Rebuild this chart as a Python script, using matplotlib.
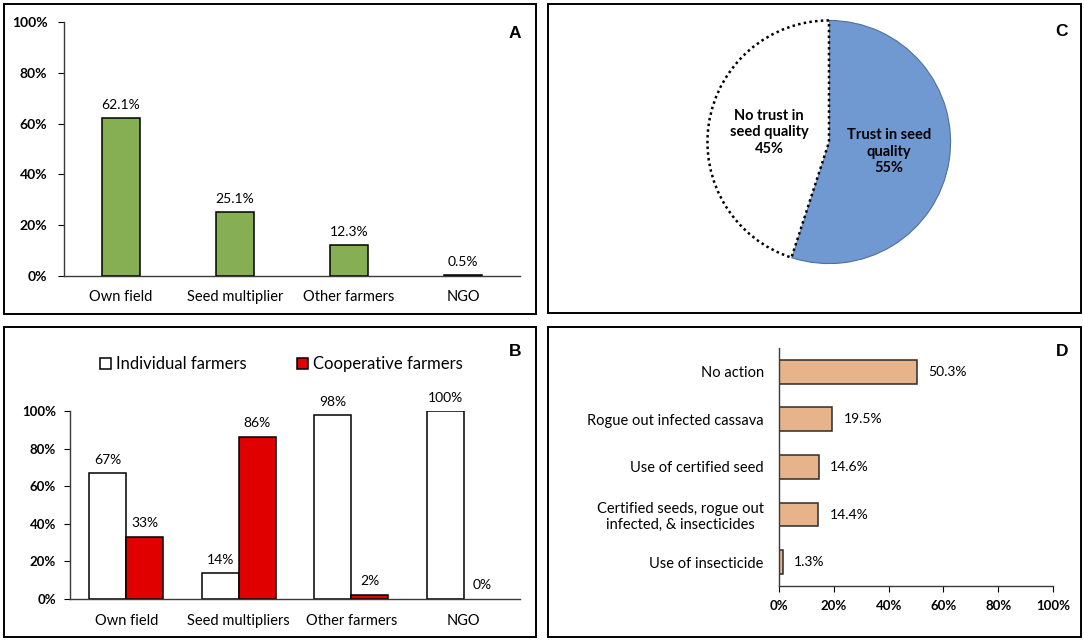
import matplotlib.pyplot as plt
from matplotlib.patches import Rectangle
from matplotlib.ticker import PercentFormatter

plt.rcParams["font.family"] = ["Lato", "DejaVu Sans"]

# panel A: source of planting material
sources_a = ["Own field", "Seed multiplier", "Other farmers", "NGO"]
share_a = [62.1, 25.1, 12.3, 0.5]

# panel B: individual vs cooperative farmers
sources_b = ["Own field", "Seed multipliers", "Other farmers", "NGO"]
individual_b = [67, 14, 98, 100]
cooperative_b = [33, 86, 2, 0]

# panel C: trust in seed quality
trust_labels = ["Trust in seed\nquality", "No trust in\nseed quality"]
trust_share = [55, 45]

# panel D: action taken
actions_d = ["No action", "Rogue out infected cassava", "Use of certified seed",
             "Certified seeds, rogue out\ninfected, & insecticides", "Use of insecticide"]
share_d = [50.3, 19.5, 14.6, 14.4, 1.3]

W, H = 1084, 642
fig = plt.figure(figsize=(W / 100, H / 100), dpi=100)


def px_axes(left, top, right, bottom):
    return fig.add_axes([left / W, 1 - bottom / H, (right - left) / W, (bottom - top) / H])


def panel_box(left, top, right, bottom, letter, lx, ly):
    fig.patches.append(Rectangle((left / W, 1 - bottom / H), (right - left) / W,
                                 (bottom - top) / H, transform=fig.transFigure,
                                 fill=False, edgecolor="black", linewidth=1.4))
    fig.text(lx / W, 1 - ly / H, letter, family="Liberation Sans", weight="bold",
             fontsize=12.5, ha="center", va="center")


def style_axes(ax):
    for side in ["top", "right"]:
        ax.spines[side].set_visible(False)
    for side in ["left", "bottom"]:
        ax.spines[side].set_color("#3a3a3a")
        ax.spines[side].set_linewidth(1.0)


panel_box(4, 4, 536, 314, "A", 515, 33)
panel_box(4, 327, 536, 637, "B", 515, 352)
panel_box(548, 4, 1081, 313, "C", 1062, 32)
panel_box(548, 327, 1081, 637, "D", 1062, 352)

# ---- A ----
ax = px_axes(64, 22, 520, 276)
style_axes(ax)
bars = ax.bar(range(len(sources_a)), share_a, width=0.34, color="#86AE53",
              edgecolor="black", linewidth=1.1)
ax.bar_label(bars, labels=[f"{v}%" for v in share_a], padding=5, fontsize=10)
ax.set_xlim(-0.5, 3.5)
ax.set_ylim(0, 100)
ax.set_yticks(range(0, 101, 20))
ax.yaxis.set_major_formatter(PercentFormatter(decimals=0))
ax.set_xticks(range(len(sources_a)), sources_a)
ax.tick_params(axis="x", length=0, pad=10, labelsize=10.5)
ax.tick_params(axis="y", length=4, pad=8, labelsize=10)
for t in ax.get_yticklabels():
    t.set_fontweight("bold")

# ---- B ----
ax = px_axes(70, 411, 520, 599)
style_axes(ax)
xb = range(len(sources_b))
w = 0.33
b1 = ax.bar([x - w / 2 for x in xb], individual_b, width=w, color="white",
            edgecolor="black", linewidth=1.1, label="Individual farmers")
b2 = ax.bar([x + w / 2 for x in xb], cooperative_b, width=w, color="#E00000",
            edgecolor="black", linewidth=1.1, label="Cooperative farmers")
ax.bar_label(b1, labels=[f"{v}%" for v in individual_b], padding=5, fontsize=10)
ax.bar_label(b2, labels=[f"{v}%" for v in cooperative_b], padding=6, fontsize=10)
for r in b2:
    if r.get_height() == 0:
        r.set_linewidth(0)
ax.set_xlim(-0.5, 3.5)
ax.set_ylim(0, 100)
ax.set_yticks(range(0, 101, 20))
ax.yaxis.set_major_formatter(PercentFormatter(decimals=0))
ax.set_xticks(list(xb), sources_b)
ax.tick_params(axis="x", length=0, pad=11, labelsize=10.5)
ax.tick_params(axis="y", length=4, pad=6, labelsize=9.5)
for t in ax.get_yticklabels():
    t.set_fontweight("bold")
ax.legend(loc="center", bbox_to_anchor=(0.47, 1.25), ncol=2, frameon=False,
          fontsize=12, handlelength=0.65, handleheight=0.65, handletextpad=0.3,
          columnspacing=3.0)

# ---- C ----
ax = px_axes(705, 18, 953, 266)
wedges, texts = ax.pie(trust_share, labels=[f"{l}\n{v}%" for l, v in zip(trust_labels, trust_share)],
                       startangle=90, counterclock=False, labeldistance=0.5,
                       colors=["#7099D2", "white"],
                       textprops=dict(fontsize=10.5, fontweight="bold"))
wedges[0].set_edgecolor("#4f6f9f")
wedges[0].set_linewidth(0.8)
wedges[1].set_edgecolor("black")
wedges[1].set_linewidth(1.8)
wedges[1].set_linestyle((0, (1, 1.3)))
wedges[1].set_zorder(3)
for t in texts:
    t.set_ha("center")
    t.set_multialignment("center")
ax.set_xlim(-1.02, 1.02)
ax.set_ylim(-1.02, 1.02)
ax.set_aspect("equal")

# ---- D ----
ax = px_axes(779, 348, 1053, 586)
style_axes(ax)
yd = range(len(actions_d))
bars = ax.barh(list(yd), share_d, height=0.5, color="#E6B38A",
               edgecolor="#2b2b2b", linewidth=1.1)
ax.bar_label(bars, labels=[f"{v}%" for v in share_d], padding=8, fontsize=10)
ax.set_ylim(4.5, -0.5)
ax.set_xlim(0, 100)
ax.set_xticks(range(0, 101, 20))
ax.xaxis.set_major_formatter(PercentFormatter(decimals=0))
ax.set_yticks(list(yd), actions_d)
ax.tick_params(axis="y", length=0, pad=11, labelsize=10.5)
ax.tick_params(axis="x", length=4, pad=6, labelsize=9.5)
for t in ax.get_xticklabels():
    t.set_fontweight("bold")
for t in ax.get_yticklabels():
    t.set_multialignment("center")

fig.savefig("out.png", dpi=100)
